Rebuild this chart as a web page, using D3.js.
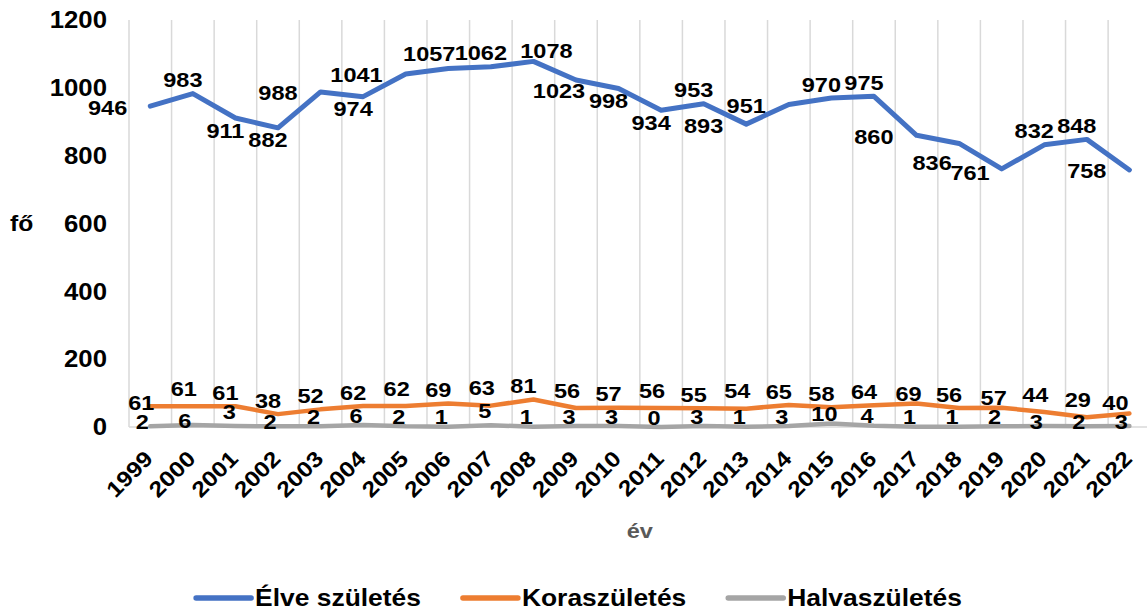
<!DOCTYPE html>
<html><head><meta charset="utf-8">
<script src="https://cdn.jsdelivr.net/npm/d3@7"></script>
<style>
body{margin:0;background:#fff}
svg{display:block}
text{font-family:"Liberation Sans",Arial,sans-serif;font-weight:bold}
</style>
</head><body>
<svg id="chart" width="1147" height="611"></svg>
<script>
// ---- data ----
const years = ["1999","2000","2001","2002","2003","2004","2005","2006","2007","2008","2009","2010","2011","2012","2013","2014","2015","2016","2017","2018","2019","2020","2021","2022"];
const elveSzuletes = [946,983,911,882,988,974,1041,1057,1062,1078,1023,998,934,953,893,951,970,975,860,836,761,832,848,758];
const koraSzuletes = [61,61,61,38,52,62,62,69,63,81,56,57,56,55,54,65,58,64,69,56,57,44,29,40];
const halvaSzuletes = [2,6,3,2,2,6,2,1,5,1,3,3,0,3,1,3,10,4,1,1,2,3,2,3];
const yTickValues = [0,200,400,600,800,1000,1200];
const seriesNames = ["Élve születés","Koraszületés","Halvaszületés"];
const yTitle = "fő";
const xTitle = "év";

// label placement codes (where each data label sits relative to its point)
const elvePlacement = ['l','t','b','b','l','b','l','tl','t','tr','bl','b','b','t','l','l','t','t','l','bl2','ln','t','t','l'];
const koraPlacement = ['c','th','t','t','t','t','th','t','th','t','th','t','th','t','th','t','t','t','tn','t','tn','th','th','tnl'];
const halvaPlacement = ['nl','nl','nh','nl','n','n','n','n','nh','n','n','n','n','n','n','n','n','n','n','n','n','nl','nl','nl'];

// ---- layout ----
const plotLeft = 129, plotTop = 20, plotBottom = 427;
const band = 42.57;
const plotRight = plotLeft + band * years.length;
const colors = ["#4472C4", "#ED7D31", "#A5A5A5"];
const widths = [5, 4.5, 4.5];
const STRETCH = 1.12;

const svg = d3.select("#chart");

const x = d3.scaleBand().domain(years).range([plotLeft, plotRight]).padding(0);
const y = d3.scaleLinear().domain([0, 1200]).range([plotBottom, plotTop]);
const cx = d => x(d) + x.bandwidth() / 2;

function stretch(sel, f) {
  sel.each(function () {
    const w = this.getComputedTextLength();
    this.setAttribute("textLength", w * f);
    this.setAttribute("lengthAdjust", "spacingAndGlyphs");
  });
}

// vertical gridlines at category boundaries
const bounds = years.map(d => x(d)).concat([plotRight]);
svg.append("g").selectAll("line").data(bounds).join("line")
  .attr("x1", d => d).attr("x2", d => d)
  .attr("y1", plotTop).attr("y2", plotBottom)
  .attr("stroke", "#d9d9d9").attr("stroke-width", 1.5);

// x axis line
svg.append("line")
  .attr("x1", plotLeft).attr("x2", plotRight)
  .attr("y1", plotBottom).attr("y2", plotBottom)
  .attr("stroke", "#d9d9d9").attr("stroke-width", 1.5);

// y tick labels
const yt = svg.append("g").selectAll("text").data(yTickValues).join("text")
  .attr("x", 107).attr("y", d => y(d) + 0.36 * 23)
  .attr("text-anchor", "end").attr("font-size", 23).attr("fill", "#000")
  .text(d => d);
stretch(yt, STRETCH);

// x tick labels (rotated)
const xt = svg.append("g").selectAll("text").data(years).join("text")
  .attr("text-anchor", "end").attr("font-size", 22).attr("fill", "#000")
  .attr("transform", d => `translate(${cx(d) + 4},${plotBottom + 33}) rotate(-45)`)
  .text(d => d);
stretch(xt, STRETCH);

// axis titles
const yT = svg.append("text").attr("x", 10).attr("y", y(600) + 0.36 * 22)
  .attr("font-size", 22).attr("fill", "#000").text(yTitle);
stretch(yT, STRETCH);
const xT = svg.append("text").attr("x", (plotLeft + plotRight) / 2).attr("y", 538)
  .attr("text-anchor", "middle").attr("font-size", 21).attr("fill", "#595959").text(xTitle);
stretch(xT, STRETCH);

// lines
const series = [
  { name: seriesNames[0], values: elveSzuletes, color: colors[0], w: widths[0], place: elvePlacement },
  { name: seriesNames[1], values: koraSzuletes, color: colors[1], w: widths[1], place: koraPlacement },
  { name: seriesNames[2], values: halvaSzuletes, color: colors[2], w: widths[2], place: halvaPlacement }
];
const line = d3.line().x(d => cx(d.year)).y(d => y(d.v));
[2, 1, 0].forEach(i => {
  const s = series[i];
  svg.append("path")
    .datum(years.map((yr, j) => ({ year: yr, v: s.values[j] })))
    .attr("d", line).attr("fill", "none")
    .attr("stroke", s.color).attr("stroke-width", s.w)
    .attr("stroke-linejoin", "round").attr("stroke-linecap", "round");
});

// data labels
const placeOffsets = {
  t:   { dx: -10, dy: -14, anchor: "middle" },
  th:  { dx: -9,  dy: -18, anchor: "middle" },
  tn:  { dx: -8,  dy: -10, anchor: "middle" },
  tnl: { dx: -14, dy: -11, anchor: "middle" },
  b:   { dx: -10, dy: 12,  anchor: "middle" },
  l:   { dx: -23, dy: 1,   anchor: "end" },
  ln:  { dx: -12, dy: 4,   anchor: "end" },
  tl:  { dx: -19, dy: -15, anchor: "middle" },
  tr:  { dx: 13,  dy: -11, anchor: "middle" },
  bl:  { dx: -17, dy: 10,  anchor: "middle" },
  bl2: { dx: -27, dy: 19,  anchor: "middle" },
  c:   { dx: -9,  dy: -4,  anchor: "middle" },
  n:   { dx: -7,  dy: -10, anchor: "middle" },
  nl:  { dx: -8,  dy: -5,  anchor: "middle" },
  nh:  { dx: -6,  dy: -15, anchor: "middle" }
};
const LF = 21;
series.forEach(s => {
  const lab = svg.append("g").selectAll("text")
    .data(years.map((yr, j) => ({ year: yr, v: s.values[j], p: placeOffsets[s.place[j]] })))
    .join("text")
    .attr("x", d => cx(d.year) + d.p.dx)
    .attr("y", d => y(d.v) + d.p.dy + 0.36 * LF)
    .attr("text-anchor", d => d.p.anchor)
    .attr("font-size", LF).attr("fill", "#000")
    .text(d => d.v);
  stretch(lab, STRETCH);
});

// legend
const legendY = 598;
const lg = svg.append("g");
const items = series.map(s => {
  const g = lg.append("g");
  g.append("line").attr("x1", 0).attr("x2", 55).attr("y1", legendY).attr("y2", legendY)
    .attr("stroke", s.color).attr("stroke-width", 5.5).attr("stroke-linecap", "round");
  const t = g.append("text").attr("x", 59).attr("y", legendY + 8)
    .attr("font-size", 24).attr("fill", "#000").text(s.name);
  stretch(t, 1.10);
  const w = 59 + t.node().getComputedTextLength();
  return { g, w };
});
const gap = 42;
const total = d3.sum(items, d => d.w) + gap * (items.length - 1);
let lx = 579 - total / 2;
items.forEach(it => { it.g.attr("transform", `translate(${lx},0)`); lx += it.w + gap; });
</script>
</body></html>
